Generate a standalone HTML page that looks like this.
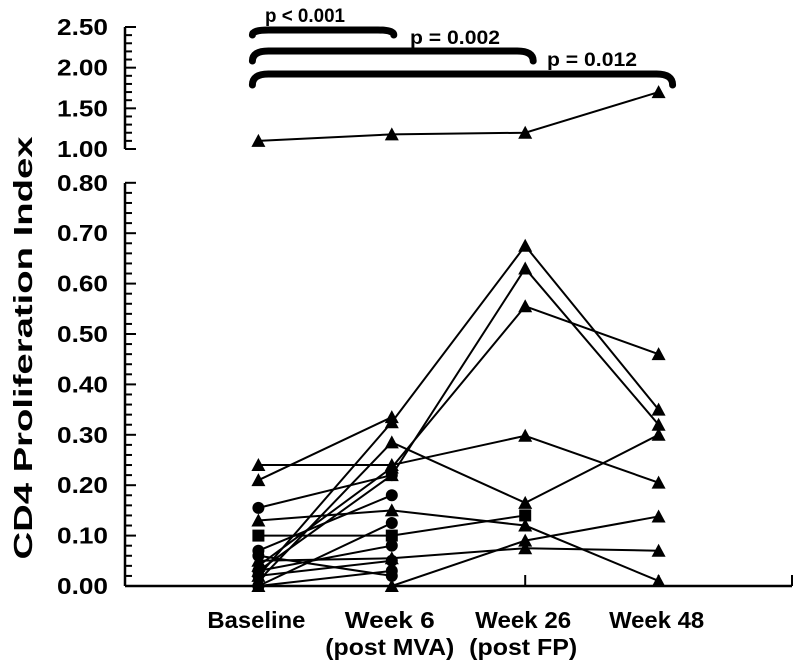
<!DOCTYPE html>
<html><head><meta charset="utf-8"><style>
body{margin:0;background:#fff;}
svg{display:block;font-family:"Liberation Sans",Arial,sans-serif;}
</style></head><body>
<svg id="chart" width="800" height="668" viewBox="0 0 800 668">
<g id="axes"></g><g id="brackets"></g><g id="series"></g>
</svg>
<script>
const categories=["Baseline","Week 6","Week 26","Week 48"];
const categorySub=["","(post MVA)","(post FP)",""];
const lowerTicks=["0.00","0.10","0.20","0.30","0.40","0.50","0.60","0.70","0.80"];
const upperTicks=["1.00","1.50","2.00","2.50"];
const seriesMarkers=["tri","tri","tri","tri","tri","tri","tri","circle","tri","square","tri","tri","circle","circle","circle","circle","circle","circle"];
const s1=[1.10,1.18,1.20,1.70];
const s2=[0.24,0.24,0.298,0.205];
const s3=[0.21,0.335,null,null];
const s4=[0.02,0.325,0.675,0.35];
const s5=[0.03,0.22,0.63,0.32];
const s6=[0.04,0.235,0.555,0.46];
const s7=[0.01,0.285,0.165,0.30];
const s8=[0.155,0.22,null,null];
const s9=[0.13,0.15,0.12,0.01];
const s10=[0.10,0.10,0.14,null];
const s11=[0.0,0.0,0.09,0.138];
const s12=[0.05,0.055,0.075,0.07];
const s13=[0.07,0.18,null,null];
const s14=[0.0,0.125,null,null];
const s15=[0.03,0.08,null,null];
const s16=[0.0,0.03,null,null];
const s17=[0.06,0.02,null,null];
const s18=[0.02,0.05,null,null];
const allSeries=[s1,s2,s3,s4,s5,s6,s7,s8,s9,s10,s11,s12,s13,s14,s15,s16,s17,s18];
const pLabels=["p < 0.001","p = 0.002","p = 0.012"];
const pTo=[1,2,3];

const NS="http://www.w3.org/2000/svg";
function mk(tag,attrs,parent,text){const e=document.createElementNS(NS,tag);for(const k in attrs)e.setAttribute(k,attrs[k]);if(text!==undefined)e.textContent=text;parent.appendChild(e);return e;}
const X0=125,XEND=792,STEP=(XEND-X0)/5;
function xs(i){return X0+STEP*(i+1);}
function ys(v){return v>=0.9?149-(v-1)*81.33:586-v*504;}
const axes=document.getElementById('axes');
let ua=mk('line',{x1:X0,y1:27,x2:X0,y2:149,stroke:'#000','stroke-width':2.5},axes);


for(let k=0;k<=15;k++){const v=1+k*0.1;const y=ys(v);const maj=k%5===0;
 mk('line',{x1:X0,y1:y,x2:X0+(maj?11:7),y2:y,stroke:'#000','stroke-width':2},axes);}
upperTicks.forEach(t=>{const e=mk('text',{x:108,y:ys(parseFloat(t))+8,'text-anchor':'end','font-size':23,'font-weight':'bold',textLength:51,lengthAdjust:'spacingAndGlyphs'},axes,t);
 
 });
let la=mk('line',{x1:X0,y1:183,x2:X0,y2:586,stroke:'#000','stroke-width':2.5},axes);


for(let k=0;k<=40;k++){const v=k*0.02;const y=ys(v);const maj=k%5===0;
 mk('line',{x1:X0,y1:y,x2:X0+(maj?11:7),y2:y,stroke:'#000','stroke-width':2},axes);}
lowerTicks.forEach(t=>{const e=mk('text',{x:108,y:ys(parseFloat(t))+8,'text-anchor':'end','font-size':23,'font-weight':'bold',textLength:51,lengthAdjust:'spacingAndGlyphs'},axes,t);
 
 });
let xa=mk('line',{x1:X0,y1:586,x2:XEND,y2:586,stroke:'#000','stroke-width':2.5},axes);


for(let i=0;i<5;i++){const x=X0+STEP*(i+1);mk('line',{x1:x,y1:586,x2:x,y2:575,stroke:'#000','stroke-width':2},axes);}
const labW=[98,90,96,95],subW=[0,129,108,0];
categories.forEach((c,i)=>{const e=mk('text',{x:xs(i)-2,y:628,'text-anchor':'middle','font-size':23,'font-weight':'bold',textLength:labW[i],lengthAdjust:'spacingAndGlyphs'},axes,c);
 
 
 if(categorySub[i]){const f=mk('text',{x:xs(i)-2,y:655,'text-anchor':'middle','font-size':23,'font-weight':'bold',textLength:subW[i],lengthAdjust:'spacingAndGlyphs'},axes,categorySub[i]);
 
 }});
const yt=mk('text',{x:0,y:0,transform:'translate(32,348) rotate(-90)','text-anchor':'middle','font-size':26,'font-weight':'bold',textLength:423,lengthAdjust:'spacingAndGlyphs'},axes,'CD4 Proliferation Index');


const br=document.getElementById('brackets');
const bH=[30,51,74],bEnd=[35,61,85],pX=[305,455,592],pY=[22,44,66],pW=[80,90,90];
pTo.forEach((j,k)=>{const x0=xs(0)-6,x1=xs(j)+(k===0?2:k===1?8:14);const yH=bH[k],yE=bEnd[k];
 const p=mk('path',{d:`M${x0},${yE} Q${x0},${yH} ${x0+16},${yH} L${x1-16},${yH} Q${x1},${yH} ${x1},${yE}`,fill:'none',stroke:'#000','stroke-width':7,'stroke-linecap':'round'},br);
 
 
 const t=mk('text',{x:pX[k],y:pY[k],'text-anchor':'middle','font-size':19,'font-weight':'bold',textLength:pW[k],lengthAdjust:'spacingAndGlyphs'},br,pLabels[k]);
 
 });
const sg=document.getElementById('series');
allSeries.forEach((s,si)=>{const g=mk('g',{},sg);
 
 
 let pts=[];s.forEach((v,i)=>{if(v!==null)pts.push([xs(i),ys(v)]);});
 mk('polyline',{points:pts.map(p=>p.join(',')).join(' '),fill:'none',stroke:'#000','stroke-width':2},g);
 pts.forEach(([x,y])=>{let m;const t=seriesMarkers[si];
  if(t==='tri')m=mk('polygon',{points:`${x-7},${y+6} ${x+7},${y+6} ${x},${y-7}`,fill:'#000'},g);
  else if(t==='circle')m=mk('circle',{cx:x,cy:y,r:6,fill:'#000'},g);
  else m=mk('rect',{x:x-6,y:y-6,width:12,height:12,fill:'#000'},g);
  
  });});
</script>
</body></html>
